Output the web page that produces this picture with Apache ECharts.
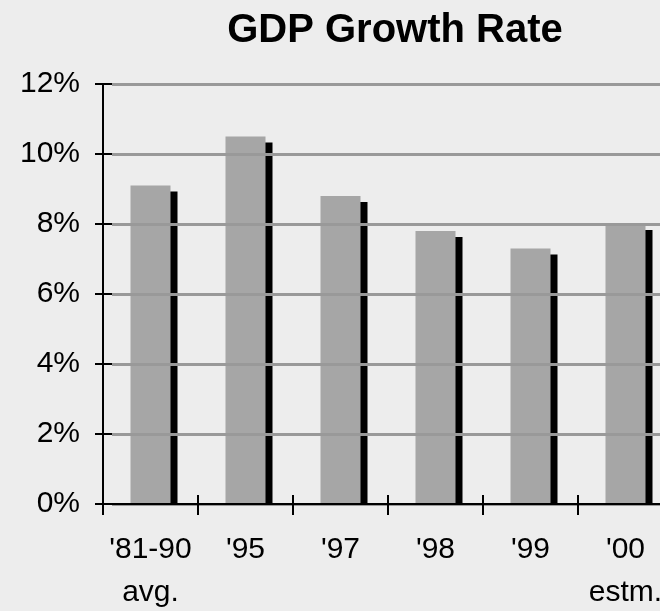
<!DOCTYPE html>
<html>
<head>
<meta charset="utf-8">
<script src="https://cdn.jsdelivr.net/npm/echarts@6/dist/echarts.min.js"></script>
<style>
html,body{margin:0;padding:0;background:#ededed;overflow:hidden;}
#c{width:680px;height:611px;}
</style>
</head>
<body>
<div id="c"></div>
<script>
var categories = ["'81-90\navg.", "'95", "'97", "'98", "'99", "'00\nestm."];
var growth = [9.1, 10.5, 8.8, 7.8, 7.3, 8.0];
var yTicks = {min: 0, max: 12, interval: 2};

var FONT = '"Liberation Sans", Arial, sans-serif';
var chart = echarts.init(document.getElementById('c'));
var BAR_W = 40;
chart.setOption({
  backgroundColor: '#ededed',
  animation: false,
  title: {
    text: 'GDP Growth Rate',
    left: 395, top: 11, textAlign: 'center', padding: 0,
    textStyle: {fontFamily: FONT, fontSize: 40, fontWeight: 'bold', color: '#000', lineHeight: 40}
  },
  grid: [
    {left: 103, right: 7, top: 84, bottom: 107, containLabel: false, outerBoundsMode: 'none'},
    {left: 112, right: 7, top: 84, bottom: 107, containLabel: false, outerBoundsMode: 'none'}
  ],
  xAxis: [{
    type: 'category', data: categories, position: 'bottom', gridIndex: 0, z: 3,
    axisLine: {lineStyle: {color: '#000', width: 2}},
    axisTick: {show: true, length: 11, inside: false, lineStyle: {color: '#000', width: 2}},
    axisLabel: {fontFamily: FONT, fontSize: 30, color: '#000', lineHeight: 43, margin: 24, interval: 0},
    splitLine: {show: false}
  }, {
    type: 'category', data: categories, position: 'bottom', gridIndex: 0, z: 3,
    axisLine: {show: false},
    axisTick: {show: true, length: 9, inside: true, lineStyle: {color: '#000', width: 2}},
    axisLabel: {show: false},
    splitLine: {show: false}
  }, {
    type: 'category', data: categories, gridIndex: 1, show: false
  }],
  yAxis: [{
    type: 'value', min: yTicks.min, max: yTicks.max, interval: yTicks.interval, position: 'left', gridIndex: 0, z: 3,
    axisLine: {show: true, lineStyle: {color: '#000', width: 2}},
    axisTick: {show: true, inside: false, length: 8, lineStyle: {color: '#000', width: 2}},
    axisLabel: {fontFamily: FONT, fontSize: 30, color: '#000', margin: 23, formatter: '{value}%'},
    splitLine: {show: false}
  }, {
    type: 'value', min: yTicks.min, max: yTicks.max, interval: yTicks.interval, position: 'left', gridIndex: 1, offset: 0, z: 3,
    axisLine: {show: false},
    axisTick: {show: true, inside: false, length: 9, lineStyle: {color: '#000', width: 2}},
    axisLabel: {show: false},
    splitLine: {show: true, lineStyle: {color: '#999', width: 3}}
  }],
  series: [{
    type: 'custom', z: 1, xAxisIndex: 0, yAxisIndex: 0,
    data: growth.map(function(v, i){ return [i, v]; }),
    renderItem: function(params, api){
      var top = api.coord([api.value(0), api.value(1)]);
      var base = api.coord([api.value(0), 0]);
      return {
        type: 'rect',
        shape: {x: top[0] - BAR_W / 2 + 7, y: top[1] + 6, width: BAR_W, height: base[1] - top[1] - 6},
        style: {fill: '#000'}
      };
    }
  }, {
    type: 'bar', z: 2, xAxisIndex: 0, yAxisIndex: 0,
    data: growth, barWidth: BAR_W,
    itemStyle: {color: '#a6a6a6'}
  }]
});
</script>
</body>
</html>
